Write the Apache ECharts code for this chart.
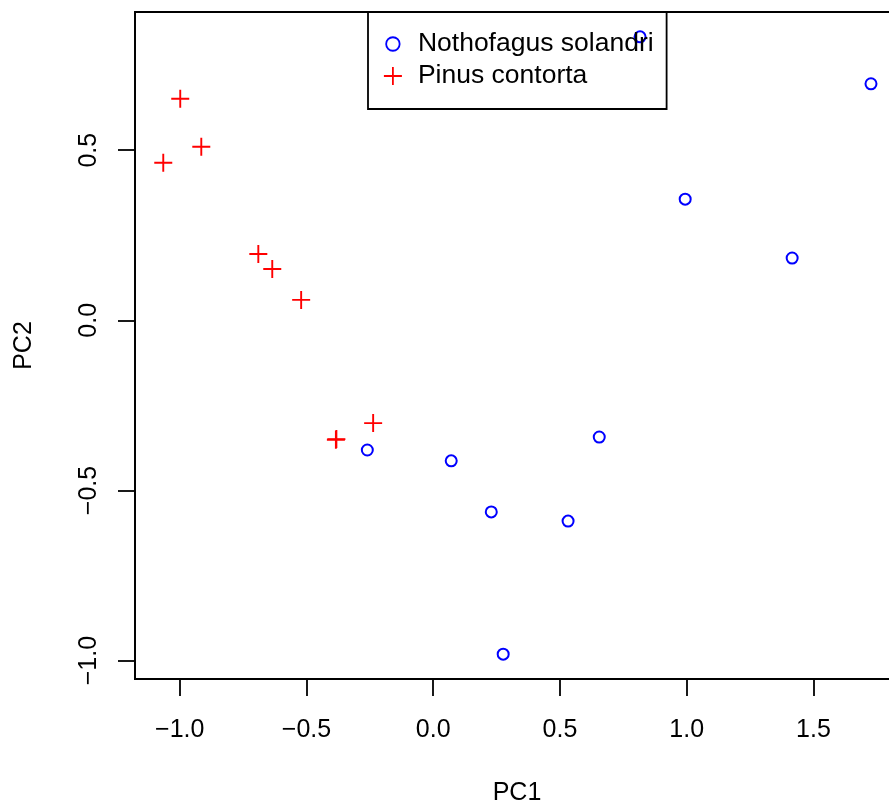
<!DOCTYPE html>
<html>
<head>
<meta charset="utf-8">
<script src="https://cdn.jsdelivr.net/npm/echarts@6/dist/echarts.min.js"></script>
<style>html,body{margin:0;padding:0;background:#fff;overflow:hidden;width:889px;height:808px}#c{width:899px;height:808px}</style>
</head>
<body>
<div id="c"></div>
<script>
const seriesNames = ['Nothofagus solandri', 'Pinus contorta'];
const nothofagusPC1 = [0.816, 1.727, 0.994, 1.416, 0.655, -0.260, 0.071, 0.229, 0.532, 0.276];
const nothofagusPC2 = [0.833, 0.695, 0.356, 0.183, -0.343, -0.381, -0.413, -0.563, -0.590, -0.981];
const pinusPC1 = [-0.998, -0.915, -1.065, -0.690, -0.635, -0.521, -0.382, -0.384, -0.237];
const pinusPC2 = [0.651, 0.510, 0.463, 0.195, 0.151, 0.060, -0.349, -0.351, -0.302];
const xTicks = [-1.0, -0.5, 0.0, 0.5, 1.0, 1.5];
const yTicks = [-1.0, -0.5, 0.0, 0.5];

const FONT = "'Liberation Sans', Arial, Helvetica, sans-serif";
const FS = 25;
const fmt = v => (v < 0 ? '\u2212' : '') + Math.abs(v).toFixed(1);
const zip = (a, b) => a.map((v, i) => [v, b[i]]);

const chart = echarts.init(document.getElementById('c'), null, {renderer: 'canvas'});
chart.setOption({
  animation: false,
  backgroundColor: '#ffffff',
  textStyle: {fontFamily: FONT, color: '#000'},
  grid: {
    left: 135, top: 12, right: 0, bottom: 129,
    outerBoundsMode: 'none', containLabel: false,
    show: true, borderColor: '#000', borderWidth: 1.8, backgroundColor: 'transparent'
  },
  legend: {
    left: 368, top: 12,
    orient: 'vertical',
    padding: [18.5, 13, 19.5, 4],
    itemGap: 5,
    itemWidth: 40, itemHeight: 18,
    borderColor: '#000', borderWidth: 1.8, borderRadius: 0,
    backgroundColor: 'transparent',
    textStyle: {fontFamily: FONT, fontSize: 26.5, color: '#000', lineHeight: 25},
    data: [
      {name: seriesNames[0], icon: 'path://M0,0M40,18M26.75,9A6.75,6.75,0,1,1,13.25,9A6.75,6.75,0,1,1,26.75,9Z',
       itemStyle: {color: 'transparent', borderColor: '#0000FF', borderWidth: 1.8}},
      {name: seriesNames[1], icon: 'path://M0,0M40,18M20,0L20,18M11,9L29,9',
       itemStyle: {color: 'transparent', borderColor: '#FF0000', borderWidth: 1.8}}
    ]
  },
  xAxis: {
    type: 'value',
    min: -1.1765, max: 1.8375,
    name: 'PC1', nameLocation: 'middle', nameGap: 101.5,
    nameTextStyle: {fontFamily: FONT, fontSize: FS, color: '#000', lineHeight: 25},
    splitLine: {show: false},
    axisLine: {show: true, onZero: false, lineStyle: {color: '#000', width: 1.8}},
    axisTick: {show: true, length: 17, customValues: xTicks, lineStyle: {color: '#000', width: 1.8}},
    axisLabel: {customValues: xTicks, formatter: fmt, margin: 39,
      fontFamily: FONT, fontSize: FS, color: '#000', lineHeight: 25}
  },
  yAxis: {
    type: 'value',
    min: -1.054, max: 0.906,
    name: 'PC2', nameLocation: 'middle', nameGap: 98,
    nameTextStyle: {fontFamily: FONT, fontSize: FS, color: '#000', lineHeight: 25},
    splitLine: {show: false},
    axisLine: {show: true, onZero: false, lineStyle: {color: '#000', width: 1.8}},
    axisTick: {show: true, length: 17, customValues: yTicks, lineStyle: {color: '#000', width: 1.8}},
    axisLabel: {customValues: yTicks, formatter: fmt, margin: 33, rotate: 90,
      fontFamily: FONT, fontSize: FS, color: '#000', lineHeight: 25}
  },
  series: [
    {
      name: seriesNames[0], type: 'scatter',
      symbol: 'emptyCircle', symbolSize: 11,
      itemStyle: {color: '#0000FF', borderColor: '#0000FF', borderWidth: 1.9, opacity: 1},
      data: zip(nothofagusPC1, nothofagusPC2)
    },
    {
      name: seriesNames[1], type: 'scatter',
      symbol: 'path://M9,0L9,18M0,9L18,9', symbolSize: 18,
      itemStyle: {color: '#FF0000', borderColor: '#FF0000', borderWidth: 1.9, opacity: 1},
      data: zip(pinusPC1, pinusPC2)
    }
  ]
});
</script>
</body>
</html>
